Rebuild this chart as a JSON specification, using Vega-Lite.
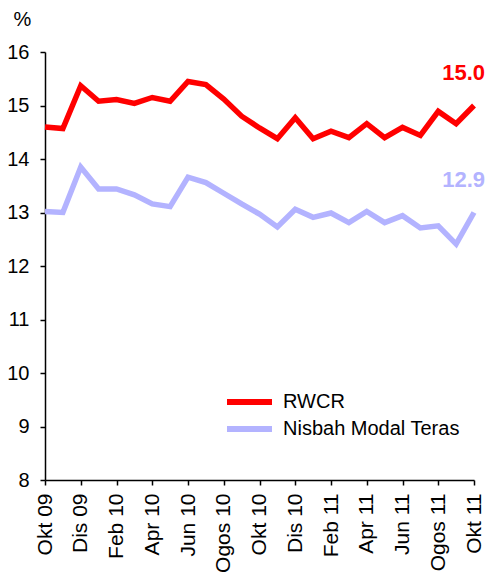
{
  "$schema": "https://vega.github.io/schema/vega-lite/v6.json",
  "width": 429,
  "height": 428,
  "autosize": "none",
  "padding": {"left": 45, "top": 52, "right": 16, "bottom": 99},
  "background": "white",
  "config": {
    "view": {"stroke": null},
    "font": "Liberation Sans",
    "axis": {"domainColor": "black", "tickColor": "black", "labelColor": "black", "titleColor": "black", "domainWidth": 1.5, "tickWidth": 1.5, "grid": false, "labelFont": "Liberation Sans", "titleFont": "Liberation Sans"},
    "legend": {"labelFont": "Liberation Sans"}
  },
  "datasets": {
    "series": [
      {"bulan": "Okt 09", "siri": "RWCR", "nilai": 14.60},
      {"bulan": "Nov 09", "siri": "RWCR", "nilai": 14.57},
      {"bulan": "Dis 09", "siri": "RWCR", "nilai": 15.37},
      {"bulan": "Jan 10", "siri": "RWCR", "nilai": 15.08},
      {"bulan": "Feb 10", "siri": "RWCR", "nilai": 15.11},
      {"bulan": "Mac 10", "siri": "RWCR", "nilai": 15.04},
      {"bulan": "Apr 10", "siri": "RWCR", "nilai": 15.15},
      {"bulan": "Mei 10", "siri": "RWCR", "nilai": 15.08},
      {"bulan": "Jun 10", "siri": "RWCR", "nilai": 15.45},
      {"bulan": "Jul 10", "siri": "RWCR", "nilai": 15.39},
      {"bulan": "Ogos 10", "siri": "RWCR", "nilai": 15.12},
      {"bulan": "Sep 10", "siri": "RWCR", "nilai": 14.80},
      {"bulan": "Okt 10", "siri": "RWCR", "nilai": 14.58},
      {"bulan": "Nov 10", "siri": "RWCR", "nilai": 14.38},
      {"bulan": "Dis 10", "siri": "RWCR", "nilai": 14.77},
      {"bulan": "Jan 11", "siri": "RWCR", "nilai": 14.38},
      {"bulan": "Feb 11", "siri": "RWCR", "nilai": 14.52},
      {"bulan": "Mac 11", "siri": "RWCR", "nilai": 14.40},
      {"bulan": "Apr 11", "siri": "RWCR", "nilai": 14.66},
      {"bulan": "Mei 11", "siri": "RWCR", "nilai": 14.40},
      {"bulan": "Jun 11", "siri": "RWCR", "nilai": 14.59},
      {"bulan": "Jul 11", "siri": "RWCR", "nilai": 14.44},
      {"bulan": "Ogos 11", "siri": "RWCR", "nilai": 14.89},
      {"bulan": "Sep 11", "siri": "RWCR", "nilai": 14.66},
      {"bulan": "Okt 11", "siri": "RWCR", "nilai": 15.00},
      {"bulan": "Okt 09", "siri": "Nisbah Modal Teras", "nilai": 13.02},
      {"bulan": "Nov 09", "siri": "Nisbah Modal Teras", "nilai": 13.00},
      {"bulan": "Dis 09", "siri": "Nisbah Modal Teras", "nilai": 13.85},
      {"bulan": "Jan 10", "siri": "Nisbah Modal Teras", "nilai": 13.44},
      {"bulan": "Feb 10", "siri": "Nisbah Modal Teras", "nilai": 13.44},
      {"bulan": "Mac 10", "siri": "Nisbah Modal Teras", "nilai": 13.33},
      {"bulan": "Apr 10", "siri": "Nisbah Modal Teras", "nilai": 13.16},
      {"bulan": "Mei 10", "siri": "Nisbah Modal Teras", "nilai": 13.11},
      {"bulan": "Jun 10", "siri": "Nisbah Modal Teras", "nilai": 13.66},
      {"bulan": "Jul 10", "siri": "Nisbah Modal Teras", "nilai": 13.56},
      {"bulan": "Ogos 10", "siri": "Nisbah Modal Teras", "nilai": 13.36},
      {"bulan": "Sep 10", "siri": "Nisbah Modal Teras", "nilai": 13.16},
      {"bulan": "Okt 10", "siri": "Nisbah Modal Teras", "nilai": 12.97},
      {"bulan": "Nov 10", "siri": "Nisbah Modal Teras", "nilai": 12.73},
      {"bulan": "Dis 10", "siri": "Nisbah Modal Teras", "nilai": 13.06},
      {"bulan": "Jan 11", "siri": "Nisbah Modal Teras", "nilai": 12.91},
      {"bulan": "Feb 11", "siri": "Nisbah Modal Teras", "nilai": 12.99},
      {"bulan": "Mac 11", "siri": "Nisbah Modal Teras", "nilai": 12.81},
      {"bulan": "Apr 11", "siri": "Nisbah Modal Teras", "nilai": 13.02},
      {"bulan": "Mei 11", "siri": "Nisbah Modal Teras", "nilai": 12.81},
      {"bulan": "Jun 11", "siri": "Nisbah Modal Teras", "nilai": 12.94},
      {"bulan": "Jul 11", "siri": "Nisbah Modal Teras", "nilai": 12.71},
      {"bulan": "Ogos 11", "siri": "Nisbah Modal Teras", "nilai": 12.75},
      {"bulan": "Sep 11", "siri": "Nisbah Modal Teras", "nilai": 12.41},
      {"bulan": "Okt 11", "siri": "Nisbah Modal Teras", "nilai": 13.00}
    ],
    "labels": [
      {"bulan": "Okt 11", "siri": "RWCR", "nilai": 15.00, "teks": "15.0"},
      {"bulan": "Okt 11", "siri": "Nisbah Modal Teras", "nilai": 13.00, "teks": "12.9"}
    ]
  },
  "layer": [
    {
      "data": {"name": "series"},
      "mark": {"type": "line", "strokeWidth": 5.5, "strokeJoin": "miter", "strokeCap": "butt"},
      "encoding": {
        "x": {
          "field": "bulan", "type": "ordinal", "sort": null,
          "scale": {"type": "point", "padding": 0},
          "axis": {
            "title": null,
            "values": ["Okt 09", "Dis 09", "Feb 10", "Apr 10", "Jun 10", "Ogos 10", "Okt 10", "Dis 10", "Feb 11", "Apr 11", "Jun 11", "Ogos 11", "Okt 11"],
            "labelAngle": 270, "labelAlign": "right", "labelBaseline": "middle",
            "labelFontSize": 21, "tickSize": 5, "labelPadding": 8
          }
        },
        "y": {
          "field": "nilai", "type": "quantitative",
          "scale": {"domain": [8, 16], "nice": false, "zero": false},
          "axis": {
            "values": [8, 9, 10, 11, 12, 13, 14, 15, 16],
            "labelFontSize": 20, "tickSize": 5, "labelPadding": 11,
            "title": "%", "titleAngle": 0, "titleFontSize": 20, "titleFontWeight": "normal",
            "titleX": -23, "titleY": -33, "titleAlign": "center", "titleBaseline": "middle"
          }
        },
        "color": {
          "field": "siri", "type": "nominal",
          "scale": {"domain": ["RWCR", "Nisbah Modal Teras"], "range": ["#ff0000", "#b3b3ff"]},
          "legend": {
            "title": null, "orient": "none", "legendX": 179, "legendY": 340,
            "symbolType": "stroke", "symbolSize": 2025, "symbolStrokeWidth": 6,
            "clipHeight": 20, "rowPadding": 7, "labelFontSize": 20, "labelColor": "black",
            "labelOffset": 8, "padding": 0, "labelLimit": 300
          }
        }
      }
    },
    {
      "data": {"name": "labels"},
      "mark": {"type": "text", "align": "right", "baseline": "middle", "dx": 11, "dy": -33, "fontSize": 22, "fontWeight": "bold"},
      "encoding": {
        "x": {"field": "bulan", "type": "ordinal", "sort": null},
        "y": {"field": "nilai", "type": "quantitative"},
        "text": {"field": "teks"},
        "color": {"field": "siri", "type": "nominal", "legend": null}
      }
    }
  ]
}
